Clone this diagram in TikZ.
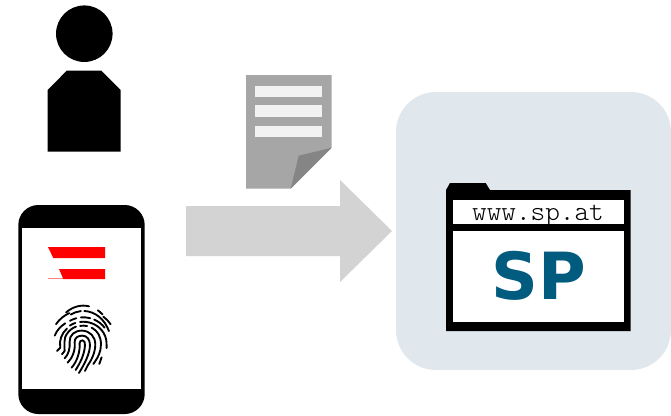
\documentclass[tikz,border=0pt]{standalone}
\usepackage{fontspec}
\newfontfamily\spfont{DejaVu Sans}
\newfontfamily\urlfont{Latin Modern Mono Light}
\definecolor{panel}{HTML}{E0E8EE}
\definecolor{arrowgrey}{HTML}{D3D3D3}
\definecolor{docgrey}{HTML}{A6A6A6}
\definecolor{foldgrey}{HTML}{858585}
\definecolor{barwhite}{HTML}{F2F2F2}
\definecolor{spblue}{HTML}{005B7F}
\newcommand{\fparc}[4]{\draw[ridge] ({#1*cos(#3)},{#2*sin(#3)}) arc[start angle=#3,end angle=#4,x radius=#1,y radius=#2];}
\tikzset{
  solidblack/.style={fill=black,draw=none},
  docbar/.style={fill=barwhite,draw=none},
  redband/.style={fill=red,draw=none},
  ridge/.style={draw=black,line width=1.4pt,line cap=round,line join=round},
  labeltext/.style={inner sep=0pt,outer sep=0pt,anchor=center}
}
\begin{document}
\begin{tikzpicture}[x=0.75pt,y=-0.75pt]
\useasboundingbox (0,0) rectangle (671,415);
\fill[white] (0,0) rectangle (671,415);
% person
\fill[solidblack] (84.3,33.7) circle[radius=21.2pt];
\fill[solidblack] (47.7,151.7) -- (47.7,90) -- (66.7,70.7) -- (101.3,70.7) -- (120.7,90) -- (120.7,151.7) -- cycle;
% document
\fill[docgrey] (246,75) -- (331.7,75) -- (331.7,147.7) -- (290.7,188.7) -- (246,188.7) -- cycle;
\fill[foldgrey] (331.7,147.7) -- (298.7,155.7) -- (290.7,188.7) -- cycle;
\fill[docbar] (255,86) rectangle (322,97);
\fill[docbar] (255,105) rectangle (322,117);
\fill[docbar] (255,126) rectangle (322,137);
% arrow
\fill[arrowgrey] (186,206) -- (340,206) -- (340,180) -- (392,231) -- (340,282) -- (340,256) -- (186,256) -- cycle;
% server panel
\fill[panel,rounded corners=30pt] (396,92) rectangle (671,370);
% browser window
\fill[solidblack] (446,190) -- (450,183) -- (485.7,183) -- (490,190) -- (630.7,190) -- (630.7,331) -- (446,331) -- cycle;
\fill[white] (453,200) rectangle (624,224);
\fill[white] (453,231) rectangle (624,321.7);
\node[labeltext] (url) at (538,216) {\urlfont\fontsize{20.9pt}{20.9pt}\selectfont www.sp.at};
\node[labeltext,text=spblue] (sp) at (538.5,275.5) {\spfont\bfseries\fontsize{48.75pt}{48.75pt}\selectfont SP};
% phone
\fill[solidblack,rounded corners=15pt] (18.3,205) rectangle (144.7,414);
\fill[white] (22,228) rectangle (141,389);
% flag
\fill[redband] (48,247) -- (105,247) -- (105,258) -- (53.3,258) -- cycle;
\fill[redband] (59,269) -- (105,269) -- (105,279) -- (63.3,279) -- cycle;
\fill[red!50] (48,278.4) rectangle (63.3,279);
% fingerprint: origin at the centre of the innermost loop, y upward
\begin{scope}[shift={(83.3,343.3)},x=0.25pt,y=0.25pt]
% outer arcs
\fparc{90}{113}{125}{79}
\fparc{90}{113}{61}{50}
\fparc{83}{97}{117}{95}
\fparc{83}{97}{88}{22}
\fparc{100}{100}{145}{115}
\fparc{100}{100}{53}{35}
\fparc{80}{78}{120}{105}
\fparc{80}{78}{95}{75}
\fparc{80}{78}{66}{37}
\fparc{90}{75}{162}{127}
\fparc{70}{65}{125}{110}
\draw[ridge] (-10,64) arc[start angle=98,end angle=0,x radius=70,y radius=65] -- (70,-14);
% left legs and inner loops
\draw[ridge] (-79,-23) -- (-69,-13) arc[start angle=190,end angle=135,x radius=72,y radius=65];
\draw[ridge] (-64,-33) -- (-56,-23) .. controls (-57,-10) and (-58,20) .. (-50,27) .. controls (-42,40) and (-32,46) .. (-22,50);
\fparc{55}{53}{100}{78}
\draw[ridge] (25,47) .. controls (43,38) and (53,20) .. (53,-3) .. controls (53,-25) and (45,-40) .. (35,-55) -- (30,-62);
\draw[ridge] (-56,-45) .. controls (-45,-35) and (-39,-15) .. (-41,5) .. controls (-42,25) and (-25,39) .. (-3,38) .. controls (20,37) and (36,20) .. (36,-3) .. controls (36,-27) and (25,-50) .. (13,-67) -- (5,-83);
\draw[ridge] (-47,-58) .. controls (-33,-45) and (-23,-20) .. (-26,3) .. controls (-27,17) and (-15,23) .. (-3,23) .. controls (12,23) and (20,10) .. (20,-5) .. controls (20,-30) and (5,-60) .. (-13,-89);
\draw[ridge] (-35,-73) .. controls (-19,-55) and (-9,-25) .. (-11,0) .. controls (-12,6) and (-7,9) .. (-2,9) .. controls (5,9) and (5,0) .. (5,-7) .. controls (3,-35) and (-10,-60) .. (-23,-80);
\draw[ridge] (55,-42) -- (48,-62);
\end{scope}
\end{tikzpicture}
\end{document}
